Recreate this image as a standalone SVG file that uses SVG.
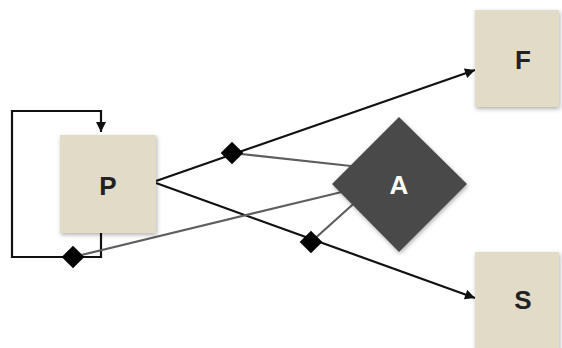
<svg xmlns="http://www.w3.org/2000/svg" width="562" height="348" viewBox="0 0 562 348">
<style>
.box{fill:#e2dbc8;}
.lbl{font-family:"Liberation Sans",Arial,sans-serif;font-weight:bold;font-size:26px;fill:#222;text-anchor:middle;dominant-baseline:central;}
.flow{stroke:#111;stroke-width:2.2;fill:none;}
.gray{stroke:#5e5e5e;stroke-width:2.2;fill:none;}
.dm{fill:#000;}
</style>
<defs>
<marker id="arr" viewBox="0 0 10 10" refX="10" refY="5" markerWidth="11" markerHeight="10" orient="auto" markerUnits="userSpaceOnUse">
<path d="M0,0 L10,5 L0,10 z" fill="#111"/>
</marker>
<filter id="sh" x="-20%" y="-20%" width="140%" height="140%">
<feDropShadow dx="1" dy="2" stdDeviation="2" flood-color="#000" flood-opacity="0.3"/>
</filter>
</defs>
<g id="connectors">
<path class="flow" d="M101,233 L101,257 L12,257 L12,111 L101,111 L101,132" marker-end="url(#arr)"/>
<line class="flow" x1="156" y1="181" x2="475" y2="70" marker-end="url(#arr)"/>
<line class="flow" x1="156" y1="183" x2="475" y2="298" marker-end="url(#arr)"/>
<line class="gray" x1="232" y1="153" x2="360" y2="167"/>
<line class="gray" x1="73" y1="257" x2="350" y2="190"/>
<line class="gray" x1="311" y1="242" x2="360" y2="198"/>
<rect class="dm" x="-8" y="-8" width="16" height="16" transform="translate(232,153) rotate(45)"/>
<rect class="dm" x="-8" y="-8" width="16" height="16" transform="translate(73,257) rotate(45)"/>
<rect class="dm" x="-8" y="-8" width="16" height="16" transform="translate(311,242) rotate(45)"/>
</g>
<g id="P">
<rect class="box" x="60" y="135" width="96" height="98" filter="url(#sh)"/>
<text class="lbl" x="108" y="186">P</text>
</g>
<g id="F">
<rect class="box" x="475" y="10" width="84" height="97" filter="url(#sh)"/>
<text class="lbl" x="523" y="60">F</text>
</g>
<g id="S">
<rect class="box" x="475" y="252" width="84" height="100" filter="url(#sh)"/>
<text class="lbl" x="523" y="300">S</text>
</g>
<g id="A">
<path d="M399,117 L467,184 L399,252 L332,184 Z" fill="#4a4a4a" filter="url(#sh)"/>
<text class="lbl" x="399" y="185" style="fill:#fff">A</text>
</g>
</svg>
